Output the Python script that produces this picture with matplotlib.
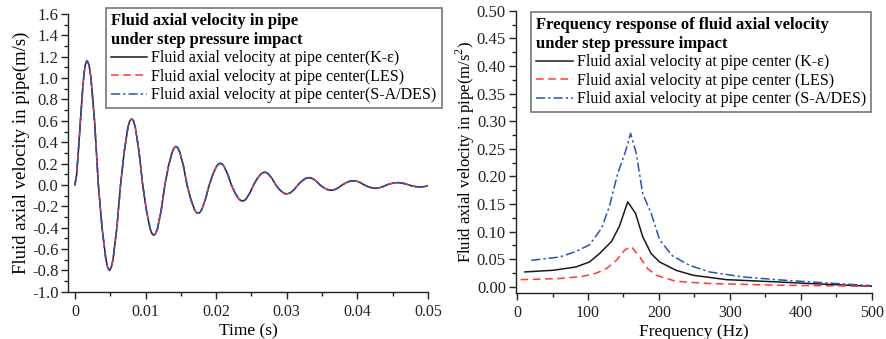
import matplotlib
matplotlib.use("Agg")
import matplotlib.pyplot as plt
from matplotlib.ticker import MultipleLocator, FormatStrFormatter, FuncFormatter

# time response, values (three models coincide)
time_s = [0.0, 0.00025, 0.0005, 0.0008, 0.0011, 0.0013, 0.0015, 0.00163, 0.00175,
          0.00201, 0.00227, 0.00280, 0.00332, 0.00384, 0.00437, 0.00463, 0.00489,
          0.00515, 0.00541, 0.00594, 0.00646, 0.00698, 0.00751, 0.00777, 0.00803,
          0.00829, 0.00855, 0.00908, 0.00960, 0.01012, 0.01065, 0.01091, 0.01117,
          0.01143, 0.01169, 0.01222, 0.01274, 0.01326, 0.01379, 0.01405, 0.01431,
          0.01457, 0.01483, 0.01536, 0.01588, 0.01640, 0.01693, 0.01719, 0.01745,
          0.01771, 0.01797, 0.01850, 0.01902, 0.01954, 0.02007, 0.02033, 0.02059,
          0.02085, 0.02111, 0.02164, 0.02216, 0.02268, 0.02321, 0.02347, 0.02373,
          0.02399, 0.02425, 0.02478, 0.02530, 0.02582, 0.02635, 0.02661, 0.02687,
          0.02713, 0.02739, 0.02792, 0.02844, 0.02896, 0.02949, 0.02975, 0.03001,
          0.03053, 0.03106, 0.03158, 0.03210, 0.03263, 0.03315,
          0.03367, 0.03420, 0.03472, 0.03524, 0.03577, 0.03629,
          0.03681, 0.03734, 0.03786, 0.03838, 0.03891, 0.03943,
          0.03995, 0.04048, 0.04100, 0.04152, 0.04205, 0.04257,
          0.04309, 0.04362, 0.04414, 0.04466, 0.04519, 0.04571,
          0.04623, 0.04676, 0.04728, 0.04780, 0.04833, 0.04885,
          0.04937, 0.05]
vel_ke = [0.0, 0.10, 0.33, 0.62, 0.90, 1.05, 1.13, 1.155, 1.16,
          1.12, 1.00, 0.58, 0.0, -0.40, -0.69, -0.77, -0.80,
          -0.77, -0.69, -0.40, 0.0, 0.31, 0.54, 0.60, 0.62,
          0.60, 0.54, 0.31, 0.0, -0.235, -0.41, -0.455, -0.47,
          -0.455, -0.41, -0.235, 0.0, 0.18, 0.31, 0.348, 0.36,
          0.348, 0.31, 0.18, 0.0, -0.13, -0.23, -0.256, -0.265,
          -0.256, -0.23, -0.13, 0.0, 0.10, 0.176, 0.196, 0.203,
          0.196, 0.176, 0.10, 0.0, -0.075, -0.13, -0.145, -0.15,
          -0.145, -0.13, -0.075, 0.0, 0.06, 0.103, 0.115, 0.119,
          0.115, 0.103, 0.06, 0.0, -0.042, -0.073, -0.081, -0.084,
          -0.073, -0.042, 0.0, 0.035, 0.06, 0.069,
          0.06, 0.035, 0.0, -0.025, -0.043, -0.05,
          -0.043, -0.025, 0.0, 0.02, 0.035, 0.04,
          0.035, 0.02, 0.0, -0.016, -0.027, -0.031,
          -0.027, -0.016, 0.0, 0.011, 0.019, 0.022,
          0.019, 0.011, 0.0, -0.01, -0.016, -0.019,
          -0.016, -0.009]
vel_les = list(vel_ke)
vel_sa = list(vel_ke)

# frequency response
freq_ke = [11, 51, 83, 102, 116, 133, 144, 156, 167, 177, 189, 201, 224, 248, 295, 365, 412, 500]
amp_ke = [0.027, 0.030, 0.036, 0.045, 0.060, 0.082, 0.109, 0.154, 0.133, 0.091, 0.060, 0.045,
          0.030, 0.021, 0.013, 0.009, 0.006, 0.001]
freq_les = [5, 60, 93, 112, 126, 140, 152, 161, 173, 184, 196, 224, 271, 365, 500]
amp_les = [0.013, 0.015, 0.019, 0.025, 0.033, 0.048, 0.067, 0.073, 0.054, 0.033, 0.021,
           0.010, 0.006, 0.003, 0.001]
freq_sa = [20, 60, 83, 102, 119, 130, 142, 152, 160, 168, 177, 189, 201, 219, 243, 271, 318,
           365, 412, 500]
amp_sa = [0.048, 0.054, 0.064, 0.076, 0.106, 0.145, 0.206, 0.242, 0.278, 0.242, 0.169, 0.133,
          0.085, 0.056, 0.039, 0.027, 0.018, 0.013, 0.009, 0.002]

labels_time = ["Fluid axial velocity at pipe center(K-\u03b5)",
               "Fluid axial velocity at pipe center(LES)",
               "Fluid axial velocity at pipe center(S-A/DES)"]
labels_freq = ["Fluid axial velocity at pipe center (K-\u03b5)",
               "Fluid axial velocity at pipe center (LES)",
               "Fluid axial velocity at pipe center (S-A/DES)"]

plt.rcParams["font.family"] = ["Liberation Serif", "DejaVu Serif"]
plt.rcParams["mathtext.fontset"] = "custom"
plt.rcParams["mathtext.rm"] = "Liberation Serif"
plt.rcParams["axes.unicode_minus"] = False

BLACK = "#1a1a1a"
RED = "#ff3838"
BLUE = "#3050b0"
dash_red = (0, (5, 3))
dash_blue = (0, (6, 2, 1.5, 2))

fig = plt.figure(figsize=(8.86, 3.39), dpi=100)
ax1 = fig.add_axes([0.077, 0.139, 0.406, 0.820])
ax2 = fig.add_axes([0.582, 0.136, 0.402, 0.832])


def style_axes(ax):
    for side in ("top", "right"):
        ax.spines[side].set_visible(False)
    for side in ("left", "bottom"):
        ax.spines[side].set_linewidth(1.0)
        ax.spines[side].set_color("#222222")
    ax.tick_params(which="major", direction="out", length=5, width=1, colors="#222222")
    ax.tick_params(which="minor", direction="out", length=3, width=1, colors="#222222")
    ax.tick_params(axis="y", labelsize=12, pad=2)
    ax.tick_params(axis="x", labelsize=11.5, pad=4)


def style_legend(leg):
    leg.get_frame().set_edgecolor("#555555")
    leg.get_frame().set_linewidth(1.2)
    leg.get_title().set_linespacing(1.25)


# left: time response
ax1.plot(time_s, vel_ke, color=BLACK, lw=1.1, label=labels_time[0])
ax1.plot(time_s, vel_les, color=RED, lw=1.1, linestyle=dash_red, label=labels_time[1])
ax1.plot(time_s, vel_sa, color=BLUE, lw=1.1, linestyle=dash_blue, label=labels_time[2])
ax1.set_xlim(-0.00095, 0.05)
ax1.set_ylim(-1.0, 1.6)
ax1.xaxis.set_major_locator(MultipleLocator(0.01))
ax1.xaxis.set_minor_locator(MultipleLocator(0.005))
ax1.yaxis.set_major_locator(MultipleLocator(0.2))
ax1.yaxis.set_minor_locator(MultipleLocator(0.1))
ax1.xaxis.set_major_formatter(FuncFormatter(lambda v, p: "%g" % round(v, 4)))
ax1.yaxis.set_major_formatter(FormatStrFormatter("%.1f"))
style_axes(ax1)
ax1.set_xlabel("Time (s)", fontsize=12.5, labelpad=2)
ax1.set_ylabel("Fluid axial velocity in pipe(m/s)", fontsize=13.5, labelpad=1.5)

leg1 = ax1.legend(loc="upper left", bbox_to_anchor=(0.1196, 0.9764),
                  bbox_transform=fig.transFigure,
                  title="Fluid axial velocity in pipe\nunder step pressure impact",
                  title_fontproperties={"weight": "bold", "size": 12},
                  alignment="left", fontsize=11.5, frameon=True, fancybox=False,
                  handlelength=2.3, handletextpad=0.25, labelspacing=0.16,
                  borderpad=0.3, borderaxespad=0)
style_legend(leg1)

# right: frequency response
ax2.plot(freq_ke, amp_ke, color=BLACK, lw=1.1, label=labels_freq[0])
ax2.plot(freq_les, amp_les, color=RED, lw=1.1, linestyle=dash_red, label=labels_freq[1])
ax2.plot(freq_sa, amp_sa, color=BLUE, lw=1.1, linestyle=dash_blue, label=labels_freq[2])
ax2.set_xlim(-2, 500)
ax2.set_ylim(-0.011, 0.5)
ax2.xaxis.set_major_locator(MultipleLocator(100))
ax2.xaxis.set_minor_locator(MultipleLocator(50))
ax2.yaxis.set_major_locator(MultipleLocator(0.05))
ax2.yaxis.set_minor_locator(MultipleLocator(0.025))
ax2.xaxis.set_major_formatter(FormatStrFormatter("%d"))
ax2.yaxis.set_major_formatter(FormatStrFormatter("%.2f"))
style_axes(ax2)
ax2.set_xlabel("Frequency (Hz)", fontsize=12.5, labelpad=2)
ax2.set_ylabel("Fluid axial velocity in pipe(m/s$^{2}$)", fontsize=12, labelpad=0)

leg2 = ax2.legend(loc="upper left", bbox_to_anchor=(0.5993, 0.9646),
                  bbox_transform=fig.transFigure,
                  title="Frequency response of fluid axial velocity\nunder step pressure impact",
                  title_fontproperties={"weight": "bold", "size": 12},
                  alignment="left", fontsize=11.5, frameon=True, fancybox=False,
                  handlelength=2.3, handletextpad=0.25, labelspacing=0.16,
                  borderpad=0.3, borderaxespad=0)
style_legend(leg2)

fig.savefig("out.png", dpi=100)
